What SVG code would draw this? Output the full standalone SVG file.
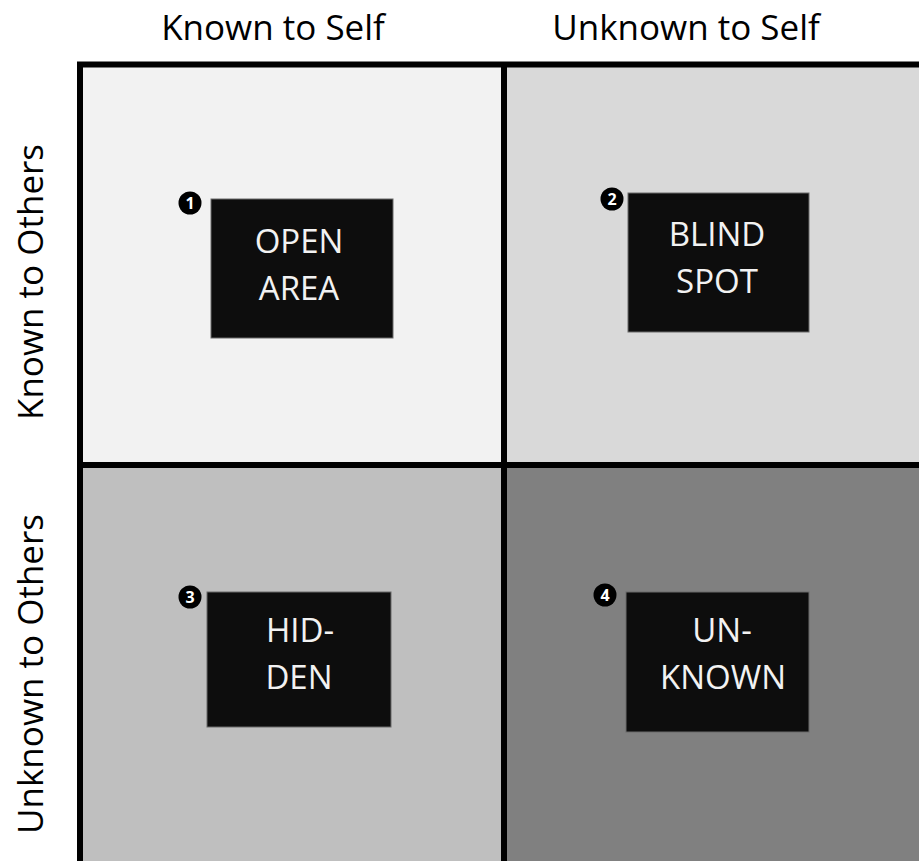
<svg xmlns="http://www.w3.org/2000/svg" width="919" height="862" viewBox="0 0 919 862">
<style>
.lbl{font-family:"Open Sans","Noto Sans","Liberation Sans",sans-serif;font-size:35px;fill:#000;text-anchor:middle}
.box{fill:#0d0d0d;stroke:#6a6a6a;stroke-width:1}
.bt{font-family:"Open Sans","Noto Sans","Liberation Sans",sans-serif;font-size:33px;fill:#f2f2f2;text-anchor:middle}
.num{font-family:"Open Sans","Noto Sans","Liberation Sans",sans-serif;font-size:16px;font-weight:bold;fill:#fff;text-anchor:middle}
.frame{stroke:#000;stroke-width:6;fill:none}
</style>
<rect width="919" height="862" fill="#fff"/>
<g id="quadrants">
<rect x="83" y="67" width="418" height="395" fill="#f2f2f2"/>
<rect x="507" y="67" width="412" height="395" fill="#d9d9d9"/>
<rect x="83" y="468" width="418" height="393" fill="#bfbfbf"/>
<rect x="507" y="468" width="412" height="393" fill="#808080"/>
</g>
<g id="frame" class="frame">
<path d="M80 62V861M77 64.5H919M504 62V861M77 465H919"/>
</g>
<g id="headers">
<text class="lbl" x="273" y="40">Known to Self</text>
<text class="lbl" x="686" y="40">Unknown to Self</text>
<text class="lbl" transform="translate(43 282) rotate(-90)">Known to Others</text>
<text class="lbl" transform="translate(43 674) rotate(-90)">Unknown to Others</text>
</g>
<g id="open-area">
<circle cx="190" cy="203" r="11.5" fill="#000"/>
<text class="num" x="190" y="208.5">1</text>
<rect class="box" x="211" y="199" width="182" height="139"/>
<text class="bt" x="299" y="253">OPEN</text>
<text class="bt" x="299" y="300">AREA</text>
</g>
<g id="blind-spot">
<circle cx="612" cy="199" r="11.5" fill="#000"/>
<text class="num" x="612" y="204.5">2</text>
<rect class="box" x="628" y="193" width="181" height="139"/>
<text class="bt" x="717" y="246">BLIND</text>
<text class="bt" x="717" y="293">SPOT</text>
</g>
<g id="hidden">
<circle cx="190" cy="597" r="11.5" fill="#000"/>
<text class="num" x="190" y="602.5">3</text>
<rect class="box" x="207" y="592" width="184" height="135"/>
<text class="bt" x="300" y="642">HID-</text>
<text class="bt" x="299" y="689">DEN</text>
</g>
<g id="unknown">
<circle cx="605" cy="595" r="11.5" fill="#000"/>
<text class="num" x="605" y="600.5">4</text>
<rect class="box" x="626" y="592" width="183" height="140"/>
<text class="bt" x="722" y="642">UN-</text>
<text class="bt" x="723" y="689">KNOWN</text>
</g>
</svg>
